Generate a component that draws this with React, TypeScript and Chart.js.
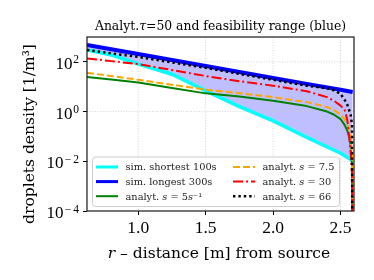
import React, { useEffect, useRef } from "react";
import { Chart, registerables } from "chart.js";

Chart.register(...registerables);

// ---- text ----
const titleText = "Analyt.τ=50 and feasibility range (blue)";
const xTitle = "r – distance [m] from source";
const yTitle = "droplets density [1/m³]";
const seriesLabels = [
  "sim. shortest 100s",
  "sim. longest 300s",
  "analyt. s = 5s⁻¹",
  "analyt. s = 7.5",
  "analyt. s = 30",
  "analyt. s = 66",
];

// ---- axes ----
const xTicks = [1.0, 1.5, 2.0, 2.5];
const yTicks = [1e-4, 1e-2, 1, 1e2];
const xMin = 0.62;
const xMax = 2.6;
const yMin = 1e-4;
const yMax = 1e3;

// ---- simulated range (shortest / longest) ----
const rSim = [0.62, 0.8, 1.0, 1.25, 1.5, 1.75, 2.0, 2.25, 2.5, 2.59];
const simShortest = [302, 190, 81, 31.6, 6.8, 1.58, 0.42, 0.091, 0.021, 0.0105];
const simLongest = [479, 321, 207, 119, 68.4, 39.4, 22.6, 13.0, 7.5, 6.1];

// ---- analytical curves ----
const rAnalyt = [0.62, 0.8, 1.0, 1.25, 1.5, 1.75, 2.0, 2.25, 2.4, 2.45, 2.5, 2.53, 2.55, 2.565, 2.575, 2.585, 2.59];
const analytS5 = [24.5, 19.5, 14.8, 8.9, 5.4, 4.0, 2.75, 1.66, 1.0, 0.76, 0.5, 0.29, 0.174, 0.091, 0.044, 0.0076, 1e-8];
const analytS7_5 = [36.3, 26.9, 19.1, 12.0, 7.6, 5.5, 3.8, 2.4, 1.51, 1.15, 0.76, 0.5, 0.3, 0.158, 0.076, 0.0145, 1e-8];
const analytS30 = [138, 107, 81, 47, 27, 16.6, 11, 6.6, 3.8, 2.75, 1.74, 1.2, 0.48, 0.091, 0.025, 0.003, 1e-8];
const analytS66 = [302, 219, 158, 95, 57.5, 33, 19, 11, 8.7, 7.2, 5.2, 3.0, 1.9, 1.1, 0.76, 0.3, 1e-8];

const TEXT_FONT = '"DejaVu Serif", serif';
const NUM_FONT = '"Liberation Serif", serif';

type Run = { t: string; f: string; dy?: number };

function drawRuns(ctx: CanvasRenderingContext2D, runs: Run[], x: number, y: number, align: "left" | "center" | "right") {
  let total = 0;
  const widths = runs.map((r) => {
    ctx.font = r.f;
    const w = ctx.measureText(r.t).width;
    total += w;
    return w;
  });
  let cx = align === "left" ? x : align === "center" ? x - total / 2 : x - total;
  ctx.textAlign = "left";
  ctx.textBaseline = "alphabetic";
  runs.forEach((r, i) => {
    ctx.font = r.f;
    ctx.fillText(r.t, cx, y + (r.dy || 0));
    cx += widths[i];
  });
}

function labelRuns(label: string, size: number): Run[] {
  const norm = `${size}px ${TEXT_FONT}`;
  const ital = `italic ${size}px ${TEXT_FONT}`;
  const prefix = "analyt. ";
  if (!label.startsWith(prefix)) return [{ t: label, f: norm }];
  const runs: Run[] = [{ t: prefix, f: norm }];
  for (const ch of label.slice(prefix.length)) {
    runs.push({ t: ch, f: /[a-z]/.test(ch) ? ital : norm });
  }
  return runs;
}

const decor = {
  id: "decor",
  beforeDatasetsDraw(chart: any) {
    const { ctx, chartArea: ca, scales } = chart;
    ctx.save();
    ctx.strokeStyle = "#c8c8c8";
    ctx.lineWidth = 0.8;
    ctx.setLineDash([1, 1.6]);
    xTicks.forEach((v) => {
      const px = scales.x.getPixelForValue(v);
      ctx.beginPath();
      ctx.moveTo(px, ca.top);
      ctx.lineTo(px, ca.bottom);
      ctx.stroke();
    });
    yTicks.forEach((v) => {
      if (v <= yMin || v >= yMax) return;
      const py = scales.y.getPixelForValue(v);
      ctx.beginPath();
      ctx.moveTo(ca.left, py);
      ctx.lineTo(ca.right, py);
      ctx.stroke();
    });
    ctx.restore();
  },
  afterDatasetsDraw(chart: any) {
    const { ctx, chartArea: ca } = chart;
    ctx.save();
    ctx.strokeStyle = "#1a1a1a";
    ctx.lineWidth = 1.2;
    ctx.setLineDash([]);
    ctx.strokeRect(ca.left, ca.top, ca.right - ca.left, ca.bottom - ca.top);
    ctx.restore();
  },
  afterDraw(chart: any) {
    const { ctx, chartArea: ca, scales } = chart;
    ctx.save();
    ctx.fillStyle = "#000";

    // title
    const tRuns: Run[] = titleText.split(/(τ)/).filter((s) => s).map((s) => ({
      t: s,
      f: s === "τ" ? `italic 12.4px ${TEXT_FONT}` : `12.4px ${TEXT_FONT}`,
    }));
    drawRuns(ctx, tRuns, (ca.left + ca.right) / 2, 30, "center");

    // x title
    drawRuns(
      ctx,
      [
        { t: xTitle.slice(0, 1), f: `italic 15.5px ${TEXT_FONT}` },
        { t: xTitle.slice(1), f: `15.5px ${TEXT_FONT}` },
      ],
      219,
      257.5,
      "center"
    );

    // y title
    ctx.save();
    ctx.translate(33.5, 134);
    ctx.rotate(-Math.PI / 2);
    drawRuns(ctx, [{ t: yTitle, f: `15.5px ${TEXT_FONT}` }], 0, 0, "center");
    ctx.restore();

    // y tick labels 10^n
    yTicks.forEach((v) => {
      const py = scales.y.getPixelForValue(v);
      const e = Math.round(Math.log10(v));
      const baseF = `17px ${NUM_FONT}`;
      const expF = `11.5px ${NUM_FONT}`;
      ctx.font = baseF;
      const w10 = ctx.measureText("10").width;
      ctx.font = expF;
      const digits = String(Math.abs(e));
      const wm = e < 0 ? ctx.measureText("−").width + 2.5 : 0;
      const wd = ctx.measureText(digits).width;
      const right = ca.left - 8;
      const x0 = right - (w10 + 0.8 + wm + wd);
      ctx.textAlign = "left";
      ctx.textBaseline = "alphabetic";
      ctx.font = baseF;
      ctx.fillText("10", x0, py + 7);
      ctx.font = expF;
      let ex = x0 + w10 + 0.8;
      if (e < 0) {
        ctx.fillText("−", ex + 0.5, py + 1.5);
        ex += wm;
      }
      ctx.fillText(digits, ex, py + 1.5);
    });

    // legend
    const bx = ca.left + 5.5;
    const by = ca.bottom - 54;
    const bw = 247;
    const bh = 49.5;
    ctx.beginPath();
    (ctx as any).roundRect(bx, by, bw, bh, 3);
    ctx.fillStyle = "rgba(255,255,255,0.8)";
    ctx.fill();
    ctx.strokeStyle = "#cccccc";
    ctx.lineWidth = 1;
    ctx.stroke();
    chart.data.datasets.forEach((d: any, i: number) => {
      const col = Math.floor(i / 3);
      const row = i % 3;
      const lx = bx + (col ? 140.5 : 3.5);
      const ly = by + 10 + row * 14.6;
      ctx.beginPath();
      ctx.setLineDash(d.borderDash || []);
      ctx.lineWidth = Math.min(d.borderWidth, 3);
      ctx.strokeStyle = d.borderColor;
      ctx.moveTo(lx, ly);
      ctx.lineTo(lx + 22, ly);
      ctx.stroke();
      ctx.setLineDash([]);
      ctx.fillStyle = "#222";
      drawRuns(ctx, labelRuns(d.label, 9.8), lx + 29.5, ly + 3.4, "left");
    });
    ctx.restore();
  },
};

const pts = (xs: number[], ys: number[]) => xs.map((x, i) => ({ x, y: ys[i] }));

export default function App() {
  const ref = useRef<HTMLCanvasElement>(null);
  useEffect(() => {
    const canvas = ref.current!;
    const tickGrid = {
      drawOnChartArea: false,
      drawTicks: true,
      tickLength: 4,
      tickColor: "#000",
      tickWidth: 1,
    };
    const chart = new Chart(canvas, {
      type: "line",
      data: {
        datasets: [
          { label: seriesLabels[0], data: pts(rSim, simShortest), borderColor: "#00ffff", borderWidth: 3.5, fill: false, order: 6 },
          {
            label: seriesLabels[1],
            data: pts(rSim, simLongest),
            borderColor: "#0000ff",
            borderWidth: 4,
            fill: "-1",
            backgroundColor: "rgba(0,0,255,0.25)",
            order: 5,
          },
          { label: seriesLabels[2], data: pts(rAnalyt, analytS5), borderColor: "#008000", borderWidth: 2, fill: false, order: 4 },
          { label: seriesLabels[3], data: pts(rAnalyt, analytS7_5), borderColor: "#ffa500", borderWidth: 2, borderDash: [7, 3], fill: false, order: 3 },
          { label: seriesLabels[4], data: pts(rAnalyt, analytS30), borderColor: "#ff0000", borderWidth: 2, borderDash: [10, 3, 2, 3], fill: false, order: 2 },
          { label: seriesLabels[5], data: pts(rAnalyt, analytS66), borderColor: "#000000", borderWidth: 2.5, borderDash: [2.4, 3], fill: false, order: 1 },
        ] as any,
      },
      options: {
        responsive: false,
        animation: false,
        events: [],
        layout: { padding: { top: 37, right: 20, bottom: 0, left: 0 } },
        elements: {
          point: { radius: 0, hoverRadius: 0 },
          line: { tension: 0, borderJoinStyle: "round" },
        },
        plugins: {
          legend: { display: false },
          title: { display: false },
          tooltip: { enabled: false },
          filler: { drawTime: "beforeDatasetsDraw" },
        } as any,
        scales: {
          x: {
            type: "linear",
            min: xMin,
            max: xMax,
            afterBuildTicks: (s: any) => {
              s.ticks = xTicks.map((v) => ({ value: v }));
            },
            afterFit: (s: any) => {
              s.height = 69;
            },
            ticks: {
              font: { family: NUM_FONT, size: 17.5 },
              color: "#000",
              padding: 3,
              autoSkip: false,
              maxRotation: 0,
              callback: (v: any) => Number(v).toFixed(1),
            },
            grid: tickGrid,
            border: { display: false },
          },
          y: {
            type: "logarithmic",
            min: yMin,
            max: yMax,
            afterBuildTicks: (s: any) => {
              s.ticks = yTicks.map((v) => ({ value: v }));
            },
            afterFit: (s: any) => {
              s.width = 87;
            },
            ticks: { display: false },
            grid: tickGrid,
            border: { display: false },
          },
        } as any,
      },
      plugins: [decor],
    });
    return () => chart.destroy();
  }, []);
  return (
    <div style={{ position: "fixed", left: 0, top: 0, width: 374, height: 280, background: "#fff" }}>
      <canvas ref={ref} width={374} height={280} style={{ width: 374, height: 280, display: "block" }} />
    </div>
  );
}
